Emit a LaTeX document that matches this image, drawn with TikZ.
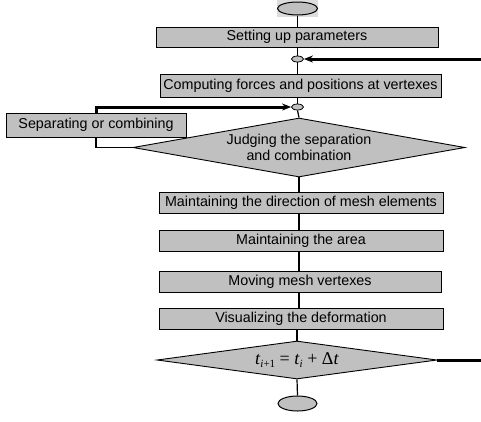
\documentclass[tikz,border=0pt]{standalone}
\usepackage{fontspec}
\setmainfont{Liberation Sans}
\newfontfamily\tms{Liberation Serif}
\usetikzlibrary{shapes.geometric,arrows.meta}
\definecolor{boxgray}{HTML}{C0C0C0}
\definecolor{bggray}{HTML}{DCDCDC}
\newcommand{\lowsub}[1]{\raisebox{-0.45ex}{\fontsize{11}{11}\selectfont #1}}
\tikzset{
  stepbox/.style={draw=black, line width=0.9pt, fill=boxgray, inner sep=0pt,
    font=\fontsize{14.3}{16.5}\selectfont, anchor=center},
  decbox/.style={draw=black, line width=0.9pt, fill=boxgray, shape=diamond, inner sep=0pt},
  term/.style={draw=black, line width=1pt, fill=boxgray, ellipse, inner sep=0pt},
  junction/.style={draw=black, line width=0.8pt, fill=boxgray, ellipse, inner sep=0pt,
    minimum width=12pt, minimum height=6pt},
  flow/.style={draw=black, line width=1.2pt},
  feedback/.style={draw=black, line width=3pt, -{Stealth[length=9pt,width=7pt]}},
  feedplain/.style={draw=black, line width=3pt},
  lowline/.style={draw=black, line width=1.6pt},
}
\begin{document}
\begin{tikzpicture}[x=1pt,y=-1pt]
\useasboundingbox (0,0) rectangle (481,421);
\fill[bggray] (277,0) rectangle (318,17);
% nodes
\node[term, minimum width=40pt, minimum height=13pt] (start) at (297.5,8.5) {};
\node[stepbox, minimum width=282pt, minimum height=20pt] (b1) at (297,37) {Setting up parameters};
\node[junction] (j1) at (297.5,59) {};
\node[stepbox, minimum width=281pt, minimum height=23pt] (b2) at (300.5,85.5) {Computing forces and positions at vertexes};
\node[junction] (j2) at (297.5,107) {};
\node[stepbox, minimum width=180pt, minimum height=24pt] (sep) at (96,125) {Separating or combining};
\node[decbox, minimum width=332pt, minimum height=59pt, aspect=5.6] (d1) at (299,147.5) {};
\node[font=\fontsize{14.3}{16.5}\selectfont, align=center, inner sep=0pt] (d1t) at (299,147.5) {Judging the separation\\and combination};
\node[stepbox, minimum width=284pt, minimum height=21pt] (b3) at (301,202.5) {Maintaining the direction of mesh elements};
\node[stepbox, minimum width=284pt, minimum height=21pt] (b4) at (301,240.5) {Maintaining the area};
\node[stepbox, minimum width=282pt, minimum height=21pt] (b5) at (300,281.5) {Moving mesh vertexes};
\node[stepbox, minimum width=284pt, minimum height=21pt] (b6) at (301,318.5) {Visualizing the deformation};
\node[decbox, minimum width=280pt, minimum height=38pt, aspect=7.4] (d2) at (297,360) {};
\node[font=\fontsize{18}{20}\selectfont\tms, inner sep=0pt] (d2t) at (297,360)
  {\textit{t}\lowsub{\textit{i}+1} = \textit{t}\lowsub{\textit{i}} + Δ\textit{t}};
\node[term, minimum width=39pt, minimum height=15pt] (stop) at (297.5,403.5) {};
\coordinate (rin) at (481,59);
\coordinate (rout) at (481,360);
% main flow
\draw[flow] (start.south) -- (start.south |- b1.north);
\draw[flow] (j1.south) -- (j1.south |- b2.north);
\draw[flow] (j1.north) -- (j1.north |- b1.south);
\draw[flow] (j2.north) -- (j2.north |- b2.south);
\draw[flow] (j2.south) -- (d1.north);
\draw[flow] (d1.south) -- (d1.south |- b3.north);
\draw[flow] (b3.south -| d1.south) -- (b4.north -| d1.south);
\draw[flow] (b4.south -| d1.south) -- (b5.north -| d1.south);
\draw[flow] (b5.south -| d1.south) -- (b6.north -| d1.south);
\draw[flow] (b6.south -| d2.north) -- (d2.north);
\draw[flow] (d2.south) -- (stop.north);
% feedback
\draw[feedback] (rin) -- (j1.east);
\draw[feedback] (sep.north) |- (j2.west);
\draw[lowline] (sep.south) |- (d1.west);
\draw[feedplain] (d2.east) -- (rout);
\end{tikzpicture}
\end{document}
